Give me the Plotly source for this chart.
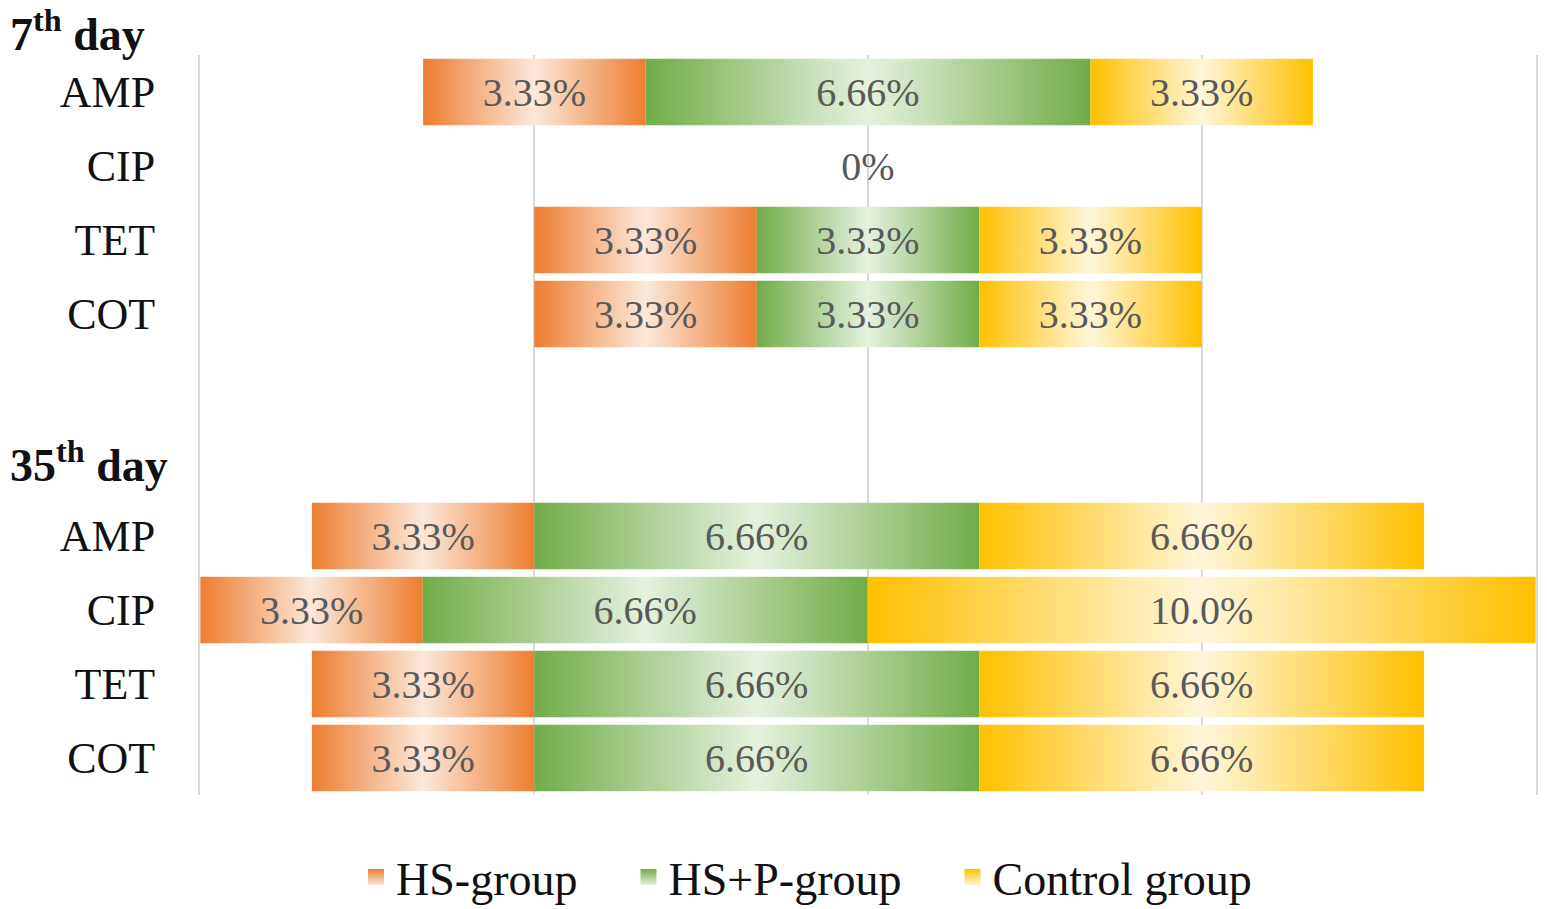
import plotly.graph_objects as go

# ---------------- data ----------------
groups = ["HS-group", "HS+P-group", "Control group"]
drugs = ["AMP", "CIP", "TET", "COT"]
day_titles = ["7<sup>th</sup> day", "35<sup>th</sup> day"]

hs_7 = [3.33, 0.0, 3.33, 3.33]
hsp_7 = [6.66, 0.0, 3.33, 3.33]
ctrl_7 = [3.33, 0.0, 3.33, 3.33]

hs_35 = [3.33, 3.33, 3.33, 3.33]
hsp_35 = [6.66, 6.66, 6.66, 6.66]
ctrl_35 = [6.66, 10.0, 6.66, 6.66]

# ---------------- styling ----------------
dark = ["#ED7D31", "#70AD47", "#FFC000"]
light = ["#FCE8DA", "#E6F1DF", "#FFF6DA"]
label_color = "#595959"
serif = "Liberation Serif"
NBSP = "\u00a0"

# row positions on a numeric y axis (reversed)
pos_7 = [0, 1, 2, 3]
pos_35 = [6, 7, 8, 9]
header_35 = 5
half_h = 0.45

rows = []
for p, a, b, c in zip(pos_7, hs_7, hsp_7, ctrl_7):
    rows.append((p, [a, b, c]))
for p, a, b, c in zip(pos_35, hs_35, hsp_35, ctrl_35):
    rows.append((p, [a, b, c]))


def fmt(v):
    return f"{v:.2f}%" if v < 10 else f"{v:.1f}%"


fig = go.Figure()

# legend entries (square symbols)
for g in range(3):
    pad = NBSP * 4 if g < 2 else ""
    fig.add_trace(go.Scatter(
        x=[None], y=[None], mode="markers", name=groups[g] + pad, legendgroup=groups[g],
        marker=dict(symbol="square", size=22, color=dark[g],
                    gradient=dict(type="vertical", color=light[g]),
                    line=dict(width=0)),
        hoverinfo="skip",
    ))

lx, ly, lt = [], [], []
zx, zy = [], []
for p, vals in rows:
    total = sum(vals)
    if total == 0:
        zx.append(0)
        zy.append(p + 0.05)
        continue
    start = -total / 2
    for g, v in enumerate(vals):
        if v <= 0:
            continue
        x0, x1 = start, start + v
        fig.add_trace(go.Scatter(
            x=[x0, x1, x1, x0, x0],
            y=[p - half_h, p - half_h, p + half_h, p + half_h, p - half_h],
            mode="lines", fill="toself",
            line=dict(width=0, color=dark[g]),
            fillcolor=dark[g],
            fillgradient=dict(type="horizontal",
                              colorscale=[[0, dark[g]], [0.5, light[g]], [1, dark[g]]],
                              start=x0, stop=x1),
            name=groups[g], legendgroup=groups[g], showlegend=False,
            hoverinfo="skip",
        ))
        lx.append((x0 + x1) / 2)
        ly.append(p + 0.05)
        lt.append(fmt(v))
        start = x1

fig.add_trace(go.Scatter(
    x=lx, y=ly, text=lt, mode="text", showlegend=False, hoverinfo="skip",
    textfont=dict(family=serif, size=40, color=label_color),
))
fig.add_trace(go.Scatter(
    x=zx, y=zy, text=["0%"] * len(zx), mode="text", showlegend=False, hoverinfo="skip",
    textfont=dict(family=serif, size=40, color=label_color),
))

fig.add_annotation(
    text=f"<b>{day_titles[0]}</b>", xref="paper", yref="paper", x=-0.1437, y=1.032,
    xanchor="left", yanchor="middle", showarrow=False,
    font=dict(family=serif, size=46, color="#111111"),
)
fig.add_annotation(
    text=f"<b>{day_titles[1]}</b>", xref="paper", yref="y", x=-0.1437, y=header_35,
    xanchor="left", yanchor="middle", showarrow=False,
    font=dict(family=serif, size=46, color="#111111"),
)

fig.update_layout(
    width=1547, height=909,
    margin=dict(l=200, r=11, t=55, b=114, autoexpand=False),
    paper_bgcolor="white", plot_bgcolor="white",
    font=dict(family=serif, color="#111111"),
    legend=dict(orientation="h", x=0.454, xanchor="center", y=-0.111, yanchor="middle",
                font=dict(family=serif, size=46, color="#111111"),
                itemsizing="trace", itemwidth=30, tracegroupgap=0),
)
fig.update_xaxes(range=[-10, 10], tickvals=[-10, -5, 0, 5, 10], showticklabels=False,
                 showgrid=True, gridcolor="#D9D9D9", gridwidth=2, zeroline=False,
                 showline=False, fixedrange=True, automargin=False)
fig.update_yaxes(range=[9.5, -0.5], tickvals=pos_7 + pos_35, ticktext=drugs + drugs,
                 showgrid=False, zeroline=False, showline=True, mirror=True,
                 linecolor="#D9D9D9", linewidth=2, ticks="", ticklabelstandoff=34,
                 tickfont=dict(family=serif, size=44, color="#111111"), fixedrange=True,
                 automargin=False)

fig.write_html("out.html", config={"displayModeBar": False},
               post_script="document.body.style.margin='0';document.body.style.overflow='hidden';")
